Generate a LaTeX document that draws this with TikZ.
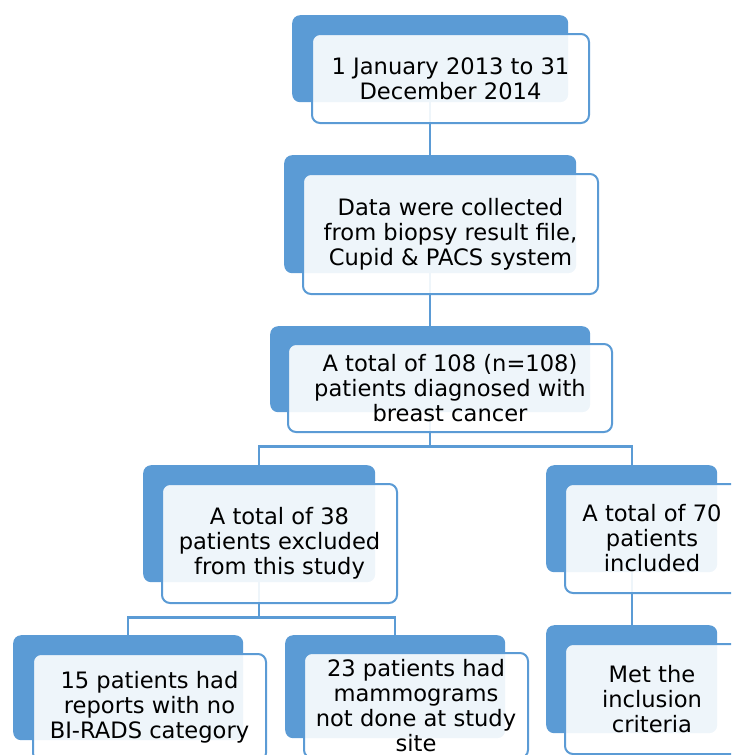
\documentclass[tikz,border=0pt]{standalone}
\usepackage{fontspec}
\setmainfont{DejaVu Sans}
\usetikzlibrary{positioning}
\definecolor{boxBlue}{RGB}{91, 155, 213}
\pgfdeclarelayer{background}
\pgfsetlayers{background,main}

\begin{document}
\begin{tikzpicture}[x=1pt, y=-1pt,
    back/.style={fill=boxBlue, rounded corners=8pt, inner sep=0pt, anchor=north west},
    front/.style={draw=boxBlue, line width=2pt, fill=white, fill opacity=0.9, text opacity=1,
      rounded corners=8pt, inner sep=0pt, align=center,
      font=\fontsize{22.6}{25}\selectfont},
    link/.style={draw=boxBlue, line width=2.2pt}]
        \useasboundingbox (0,0) rectangle (731,755);
        \clip (0,0) rectangle (731,755);
        % blue back boxes
        \node[back, minimum width=276, minimum height=87] (b1) at (292,15) {};
        \node[back, minimum width=292, minimum height=118] (b2) at (284,155) {};
        \node[back, minimum width=320, minimum height=86] (b3) at (270,326) {};
        \node[back, minimum width=232, minimum height=117] (b4) at (143,465) {};
        \node[back, minimum width=171, minimum height=107] (b5) at (546,465) {};
        \node[back, minimum width=171, minimum height=108] (b6) at (546,625) {};
        \node[back, minimum width=230, minimum height=105] (b7) at (13,635) {};
        \node[back, minimum width=220, minimum height=103] (b8) at (285,635) {};
        % front boxes with the text
        \node[front, minimum width=277, minimum height=89, below right=18pt and 19pt of b1.north west] (f1)
          {1 January 2013 to 31\\December 2014};
        \node[front, minimum width=295, minimum height=120, below right=18pt and 18pt of b2.north west] (f2)
          {Data were collected\\from biopsy result file,\\Cupid \& PACS system};
        \node[front, minimum width=324, minimum height=88, below right=17pt and 17pt of b3.north west] (f3)
          {A total of 108 (n=108)\\patients diagnosed with\\breast cancer};
        \node[front, minimum width=235, minimum height=119, below right=18pt and 18pt of b4.north west] (f4)
          {A total of 38\\patients excluded\\from this study};
        \node[front, minimum width=174, minimum height=109, below right=18pt and 18pt of b5.north west] (f5)
          {A total of 70\\patients\\included};
        \node[front, minimum width=174, minimum height=110, below right=18pt and 18pt of b6.north west] (f6)
          {Met the\\inclusion\\criteria};
        \node[front, minimum width=233, minimum height=107, below right=18pt and 19pt of b7.north west] (f7)
          {15 patients had\\reports with no\\BI-RADS category};
        \node[front, minimum width=224, minimum height=105, below right=17pt and 18pt of b8.north west] (f8)
          {23 patients had\\mammograms\\not done at study\\site};
        % connectors
        \begin{pgfonlayer}{background}
          \draw[link] (b1.south) -- (b2.north);
          \draw[link] (b2.south) -- (b3.north);
          \draw[link] (b3.south) -- ++(0,34) -| (b4.north);
          \draw[link] (b3.south) -- ++(0,34) -| (b5.north);
          \draw[link] (b5.south) -- (b6.north);
          \draw[link] (b4.south) -- ++(0,35) -| (b7.north);
          \draw[link] (b4.south) -- ++(0,35) -| (b8.north);
        \end{pgfonlayer}
      \end{tikzpicture}
\end{document}
